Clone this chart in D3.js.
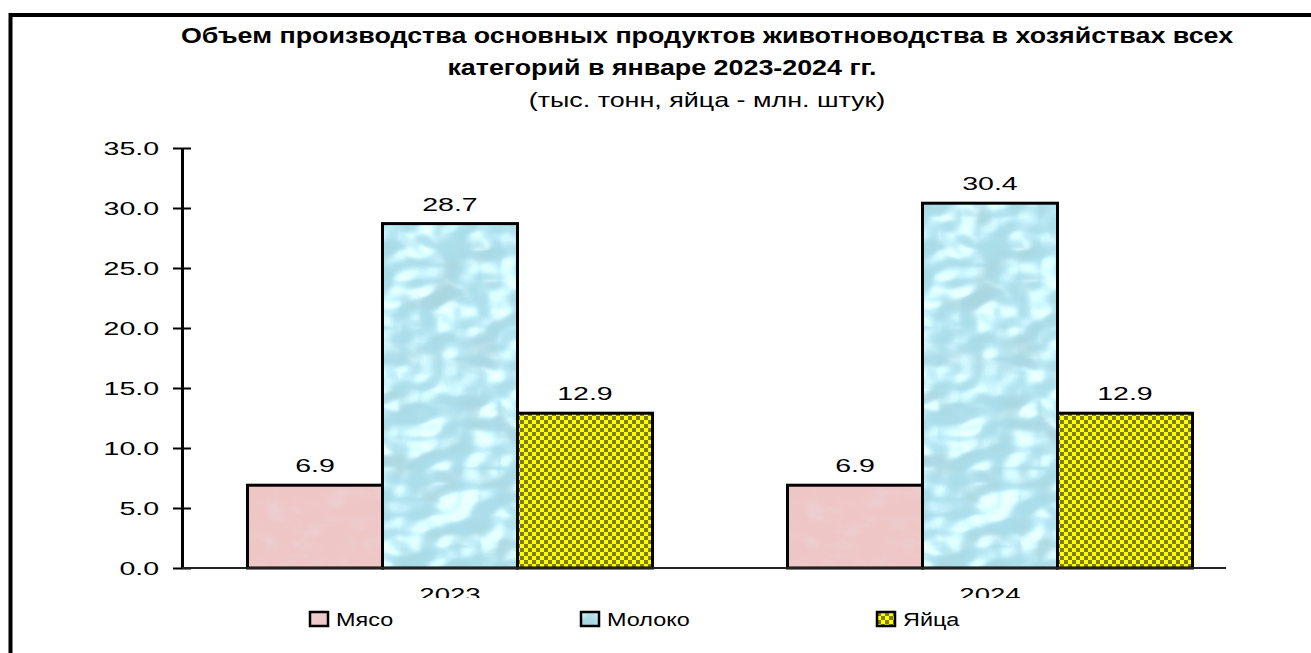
<!DOCTYPE html>
<html>
<head>
<meta charset="utf-8">
<script src="https://cdn.jsdelivr.net/npm/d3@7"></script>
<style>
  body { margin: 0; background: #fff; }
  text { font-family: Arial, "Liberation Sans", sans-serif; fill: #000; }
</style>
</head>
<body>
<svg id="chart"></svg>
<script>
const years = ["2023", "2024"];
const seriesNames = ["Мясо", "Молоко", "Яйца"];
const meat = [6.9, 6.9];
const milk = [28.7, 30.4];
const eggs = [12.9, 12.9];
const yTicks = [0, 5, 10, 15, 20, 25, 30, 35];

const W = 1311, H = 653;
const plot = { left: 182, top: 148, bottom: 568 };

const svg = d3.select("#chart").attr("width", W).attr("height", H);
const defs = svg.append("defs");

// textures
const fMeat = defs.append("filter").attr("id", "texMeat")
  .attr("x", 0).attr("y", 0).attr("width", 1).attr("height", 1);
fMeat.append("feTurbulence").attr("type", "fractalNoise")
  .attr("baseFrequency", "0.035 0.06").attr("numOctaves", 3).attr("seed", 4).attr("result", "n");
fMeat.append("feColorMatrix").attr("in", "n").attr("type", "matrix")
  .attr("values", "0 0 0 0 0.83  0 0 0 0 0.66  0 0 0 0 0.67  1.6 0 0 0 -0.75")
  .attr("result", "spots");
fMeat.append("feComposite").attr("in", "spots").attr("in2", "SourceGraphic").attr("operator", "atop");

const fMilk = defs.append("filter").attr("id", "texMilk")
  .attr("x", 0).attr("y", 0).attr("width", 1).attr("height", 1);
fMilk.append("feTurbulence").attr("type", "fractalNoise")
  .attr("baseFrequency", "0.025 0.032").attr("numOctaves", 2).attr("seed", 11).attr("result", "n");
fMilk.append("feColorMatrix").attr("in", "n").attr("type", "matrix")
  .attr("values", "0 0 0 0 0.40  0 0 0 0 0.67  0 0 0 0 0.74  3.2 0 0 0 -1.45")
  .attr("result", "dark");
const spec = fMilk.append("feSpecularLighting").attr("in", "n").attr("surfaceScale", 7)
  .attr("specularConstant", 0.9).attr("specularExponent", 22)
  .attr("lighting-color", "#ffffff").attr("result", "hl");
spec.append("feDistantLight").attr("azimuth", 225).attr("elevation", 50);
fMilk.append("feComposite").attr("in", "hl").attr("in2", "SourceAlpha").attr("operator", "in").attr("result", "hl2");
fMilk.append("feComposite").attr("in", "dark").attr("in2", "SourceGraphic").attr("operator", "atop").attr("result", "base");
fMilk.append("feComposite").attr("in", "hl2").attr("in2", "base")
  .attr("operator", "arithmetic").attr("k1", 0).attr("k2", 0.5).attr("k3", 1).attr("k4", 0)
  .attr("result", "mix");
fMilk.append("feComposite").attr("in", "mix").attr("in2", "SourceGraphic").attr("operator", "in");

const checker = defs.append("pattern").attr("id", "checker")
  .attr("patternUnits", "userSpaceOnUse").attr("width", 8).attr("height", 8);
checker.append("rect").attr("width", 8).attr("height", 8).attr("fill", "#ffff00");
checker.append("rect").attr("width", 4).attr("height", 4).attr("fill", "#808000");
checker.append("rect").attr("x", 4).attr("y", 4).attr("width", 4).attr("height", 4).attr("fill", "#808000");

const styles = [
  { fill: "#efc6c6", filter: "url(#texMeat)" },
  { fill: "#aadde9", filter: "url(#texMilk)" },
  { fill: "url(#checker)", filter: null }
];

function stretch(sel, sx) {
  sel.each(function () {
    const len = this.getComputedTextLength();
    d3.select(this).attr("textLength", len * sx).attr("lengthAdjust", "spacingAndGlyphs");
  });
}

// frame
svg.append("path").attr("d", `M10.5,${H} V15 H${W}`)
  .attr("fill", "none").attr("stroke", "#000").attr("stroke-width", 4);

// title
const t1 = svg.append("text").attr("x", 707).attr("y", 43).attr("text-anchor", "middle")
  .style("font-size", "22px").style("font-weight", "bold")
  .text("Объем производства основных продуктов животноводства в хозяйствах всех");
const t2 = svg.append("text").attr("x", 662).attr("y", 75).attr("text-anchor", "middle")
  .style("font-size", "22px").style("font-weight", "bold")
  .text("категорий в январе 2023-2024 гг.");
const t3 = svg.append("text").attr("x", 707).attr("y", 107).attr("text-anchor", "middle")
  .style("font-size", "21px")
  .text("(тыс. тонн, яйца - млн. штук)");
stretch(t1, 1.22);
stretch(t2, 1.22);
stretch(t3, 1.28);

// scales
const y = d3.scaleLinear().domain([0, 35]).range([plot.bottom, plot.top]);
const x0 = d3.scaleBand().domain(years).range([180, 1260]);
const x1 = d3.scaleBand().domain(seriesNames).range([67.5, x0.bandwidth() - 67.5]);

const data = years.map((yr, i) => ({ year: yr, values: [meat[i], milk[i], eggs[i]] }));

// y axis
const yAxis = svg.append("g").attr("transform", `translate(${plot.left},0)`)
  .call(d3.axisLeft(y).tickValues(yTicks).tickFormat(d3.format(".1f")).tickSizeOuter(0).tickPadding(17));
yAxis.select(".domain").attr("stroke", "#000").attr("stroke-width", 3);
yAxis.selectAll(".tick line").attr("x1", 9).attr("x2", -9).attr("stroke", "#000").attr("stroke-width", 2);
yAxis.selectAll(".tick text").style("font-size", "19px").attr("fill", "#000")
  .attr("font-family", null).attr("dy", "0.35em");
stretch(yAxis.selectAll(".tick text"), 1.5);

// bars
const groups = svg.selectAll("g.grp").data(data).enter().append("g").attr("class", "grp")
  .attr("transform", d => `translate(${x0(d.year)},0)`);

groups.selectAll("rect.fillBar")
  .data(d => d.values.map((v, k) => ({ name: seriesNames[k], value: v, k })))
  .enter().append("rect").attr("class", "fillBar")
  .attr("x", d => x1(d.name)).attr("width", x1.bandwidth())
  .attr("y", d => y(d.value)).attr("height", d => y(0) - y(d.value))
  .attr("fill", d => styles[d.k].fill)
  .attr("filter", d => styles[d.k].filter);

groups.selectAll("rect.outline")
  .data(d => d.values.map((v, k) => ({ name: seriesNames[k], value: v, k })))
  .enter().append("rect").attr("class", "outline")
  .attr("x", d => x1(d.name)).attr("width", x1.bandwidth())
  .attr("y", d => y(d.value)).attr("height", d => y(0) - y(d.value))
  .attr("fill", "none").attr("stroke", "#000").attr("stroke-width", 3);

const labels = groups.selectAll("text.val")
  .data(d => d.values.map((v, k) => ({ name: seriesNames[k], value: v, k })))
  .enter().append("text").attr("class", "val")
  .attr("x", d => x1(d.name) + x1.bandwidth() / 2)
  .attr("y", d => y(d.value) - 13)
  .attr("text-anchor", "middle").style("font-size", "19px")
  .text(d => d3.format(".1f")(d.value));
stretch(labels, 1.5);

// baseline
svg.append("line").attr("x1", plot.left).attr("x2", 1226)
  .attr("y1", y(0)).attr("y2", y(0)).attr("stroke", "#222").attr("stroke-width", 2);

// x labels (cut off at the bottom like the source)
defs.append("clipPath").attr("id", "xclip").append("rect")
  .attr("x", 0).attr("y", 0).attr("width", W).attr("height", 598);
const xl = svg.append("g").attr("clip-path", "url(#xclip)")
  .selectAll("text").data(years).enter().append("text")
  .attr("x", d => x0(d) + x0.bandwidth() / 2).attr("y", 601)
  .attr("text-anchor", "middle").style("font-size", "19px")
  .text(d => d);
stretch(xl, 1.45);

// legend
const legendX = [310, 581, 877];
const leg = svg.selectAll("g.leg").data(seriesNames).enter().append("g").attr("class", "leg")
  .attr("transform", (d, i) => `translate(${legendX[i]},612)`);
leg.append("rect").attr("width", 18).attr("height", 14)
  .attr("fill", (d, i) => styles[i].fill).attr("filter", (d, i) => styles[i].filter);
leg.append("rect").attr("width", 18).attr("height", 14)
  .attr("fill", "none").attr("stroke", "#000").attr("stroke-width", 2.5);
const legText = leg.append("text").attr("x", 26).attr("y", 14).style("font-size", "18px").text(d => d);
stretch(legText, 1.3);
</script>
</body>
</html>
